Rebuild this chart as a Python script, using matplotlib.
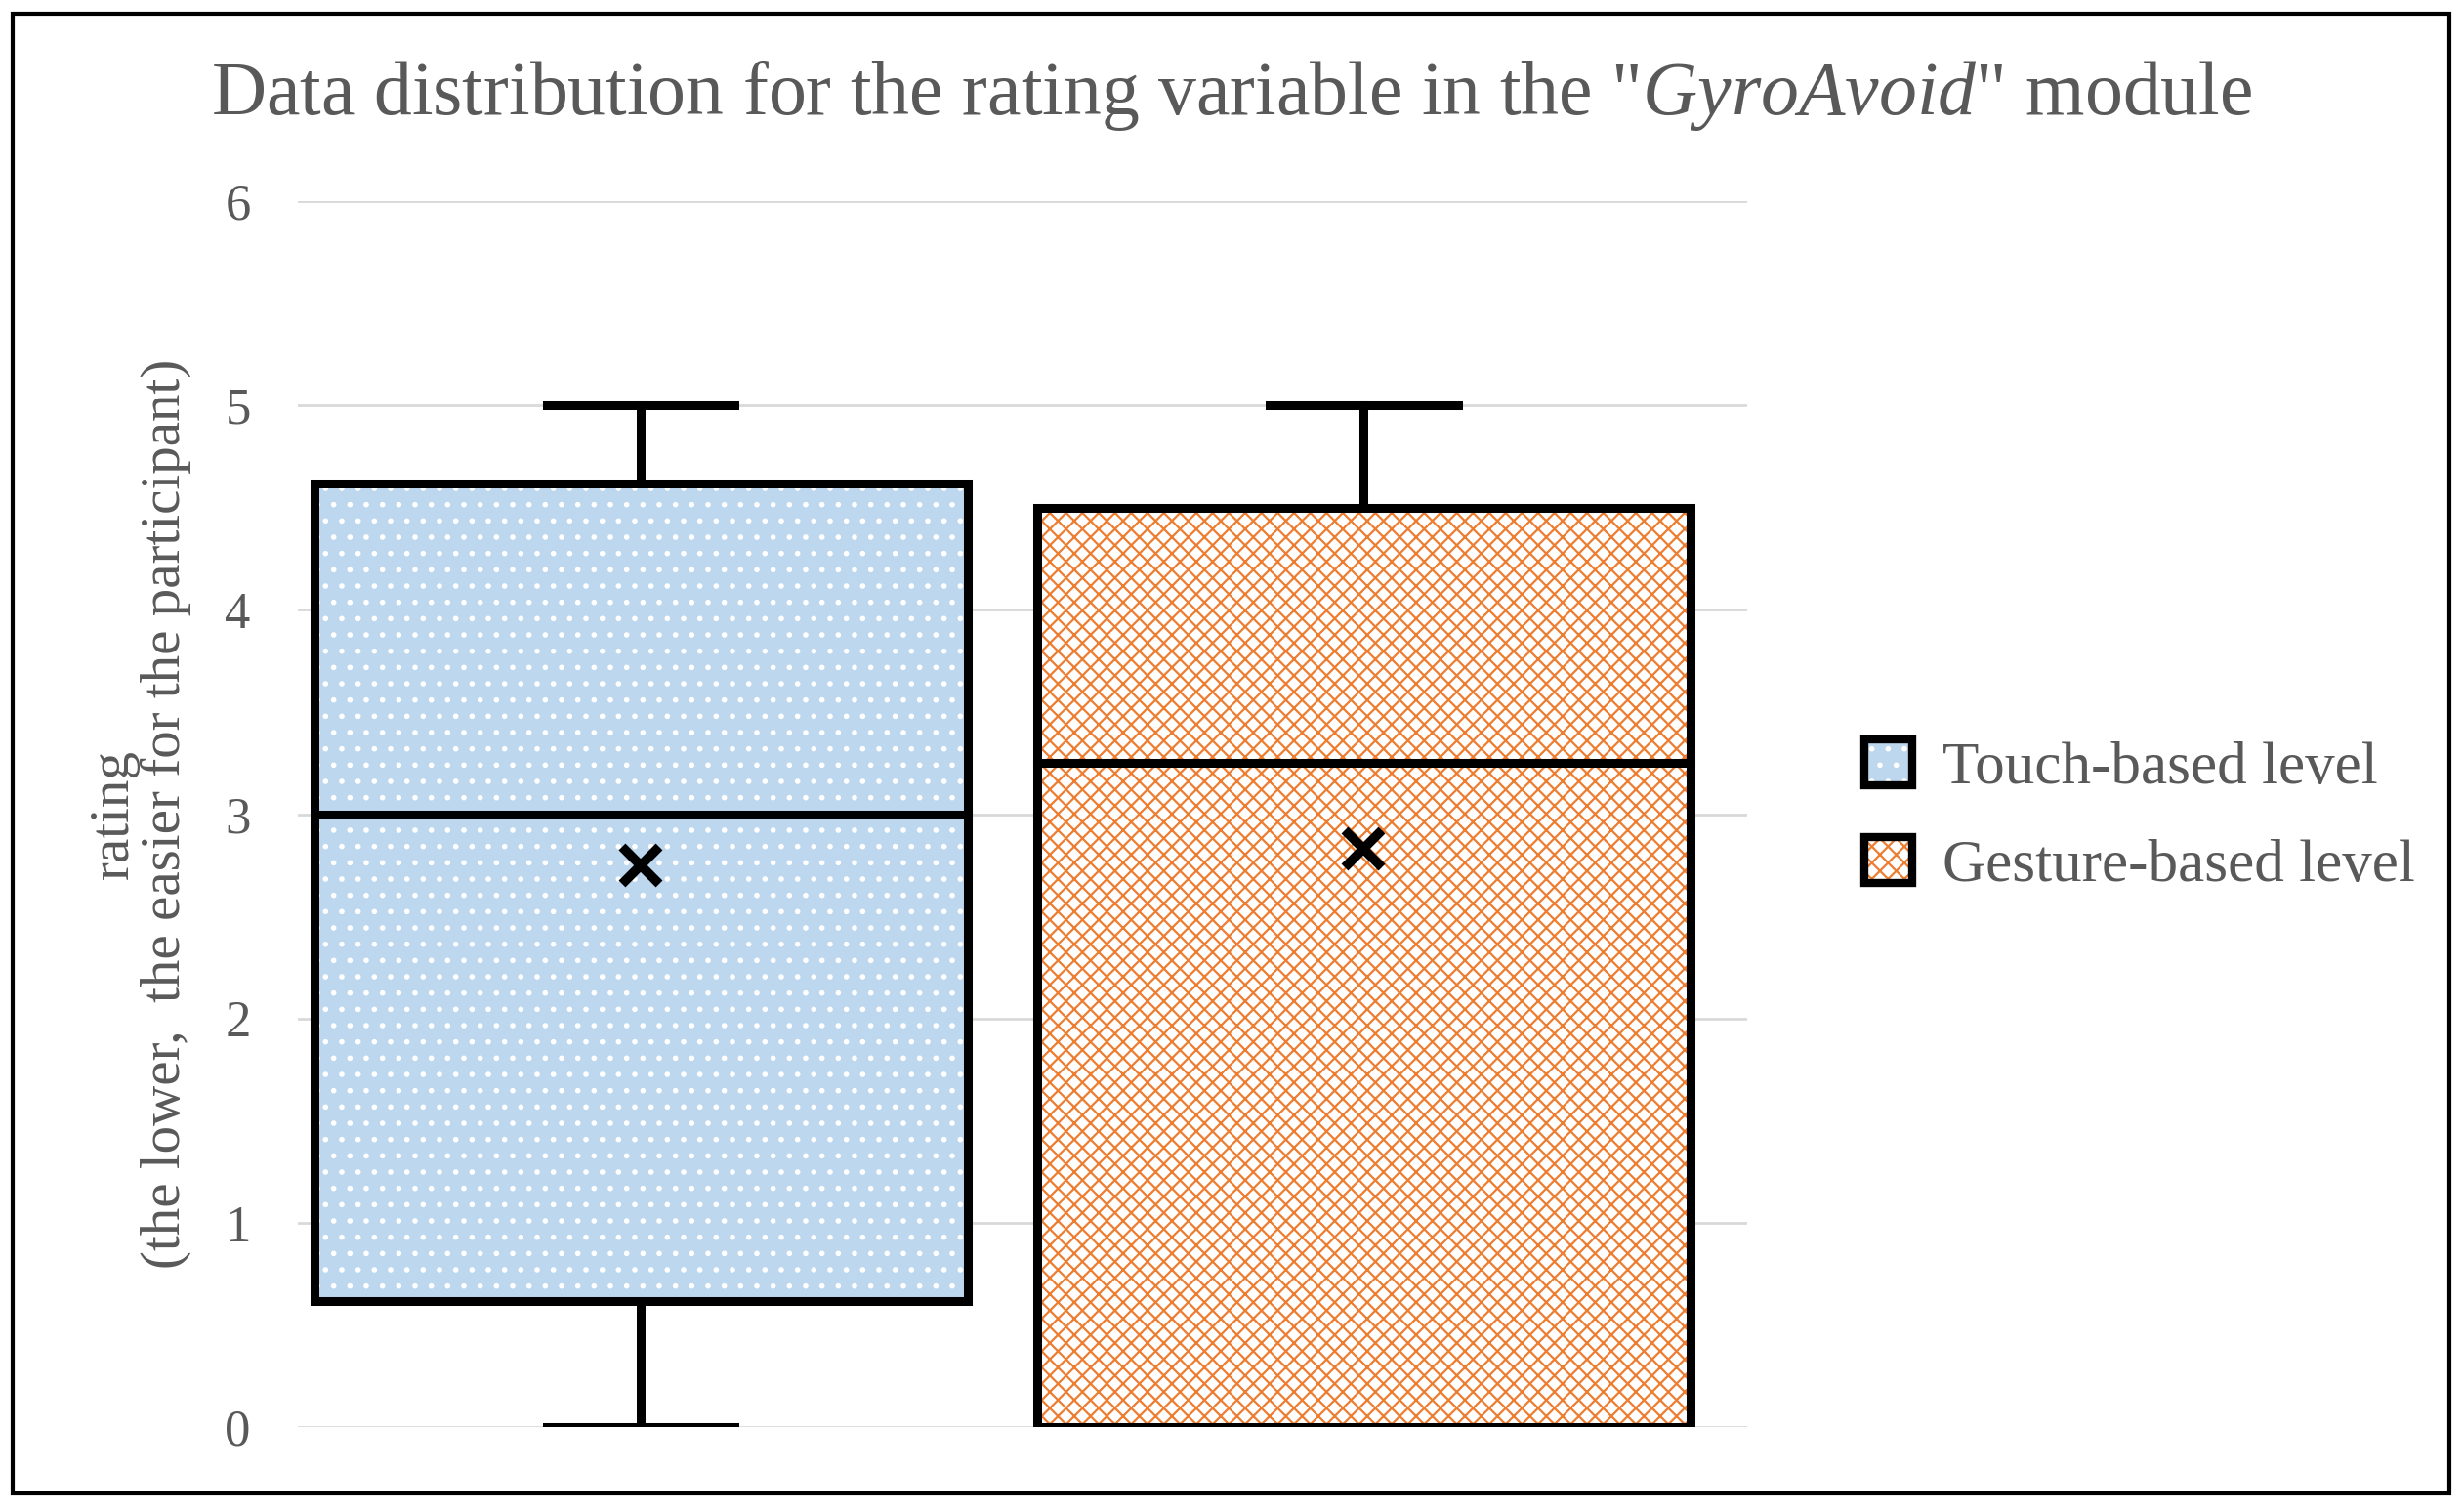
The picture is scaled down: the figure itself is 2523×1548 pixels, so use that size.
import matplotlib.pyplot as plt
from matplotlib.patches import Patch, Rectangle

# box statistics
groups = ["Touch-based level", "Gesture-based level"]
mins = [0, 0]
q1s = [0.62, 0]
medians = [3.0, 3.25]
q3s = [4.62, 4.5]
maxs = [5, 5]
means = [2.75, 2.83]

fills = ["#bdd7ee", "white"]
hatch_cols = ["white", "#ed7d31"]
hatches = [".", "xx"]

plt.rcParams["font.family"] = ["Liberation Serif", "DejaVu Serif"]
plt.rcParams["mathtext.fontset"] = "custom"
plt.rcParams["mathtext.it"] = "Liberation Serif:italic"
plt.rcParams["mathtext.rm"] = "Liberation Serif"
plt.rcParams["hatch.linewidth"] = 1.6

fig = plt.figure(figsize=(25.23, 15.48), dpi=100)
ax = fig.add_axes([0.121, 0.056, 0.588, 0.811])

w = 0.904
cap = 0.13
lw = 6.5
for i in range(len(groups)):
    h = q3s[i] - q1s[i]
    # hatched fill, then black outline on top
    ax.bar(i, h, bottom=q1s[i], width=w, color=fills[i], hatch=hatches[i],
           edgecolor=hatch_cols[i], linewidth=0, zorder=2)
    ax.bar(i, h, bottom=q1s[i], width=w, fill=False, edgecolor="black",
           linewidth=lw, zorder=3)
    ax.plot([i - w / 2, i + w / 2], [medians[i]] * 2, color="black", lw=lw, zorder=4)
    ax.plot([i, i], [q3s[i], maxs[i]], color="black", lw=lw, zorder=1)
    ax.plot([i, i], [mins[i], q1s[i]], color="black", lw=lw, zorder=1)
    ax.plot([i - cap, i + cap], [maxs[i]] * 2, color="black", lw=lw, zorder=1)
    ax.plot([i - cap, i + cap], [mins[i]] * 2, color="black", lw=lw, zorder=1)
    ax.plot(i, means[i], marker="x", color="black", markersize=28,
            markeredgewidth=7, zorder=5)

ax.set_xlim(-0.474, 1.530)
ax.set_ylim(0, 6)
ax.set_xticks([])
ax.set_yticks(range(7))
ax.tick_params(axis="y", length=0, labelsize=38, labelcolor="#595959", pad=35)
ax.grid(axis="y", color="#d9d9d9", lw=2)
ax.set_axisbelow(True)
for s in ax.spines.values():
    s.set_visible(False)
ax.set_ylabel("rating\n(the lower,  the easier for the participant)",
              fontsize=41, color="#595959", labelpad=25, linespacing=1.0)

fig.text(0.5, 0.937, 'Data distribution for the rating variable in the "$\\mathit{GyroAvoid}$" module',
         ha="center", va="center", fontsize=56, color="#595959")

handles = [Patch(facecolor=fills[i], hatch=hatches[i], edgecolor=hatch_cols[i])
           for i in range(len(groups))]
leg = fig.legend(handles, groups, loc="center left", bbox_to_anchor=(0.735, 0.46),
                 frameon=False, fontsize=44, labelcolor="#595959",
                 handlelength=0.8, handleheight=0.8, labelspacing=0.7,
                 handletextpad=0.5)
for p in leg.get_patches():
    p.set_linewidth(0)
fig.canvas.draw()
for p in leg.get_patches():
    bb = p.get_window_extent()
    fig.patches.append(Rectangle((bb.x0, bb.y0), bb.width, bb.height, fill=False,
                                 edgecolor="black", linewidth=6,
                                 transform=None, zorder=10))

fig.patches.append(Rectangle((0.005, 0.012), 0.989, 0.979, fill=False,
                             edgecolor="black", linewidth=3,
                             transform=fig.transFigure))
fig.savefig("out.png", dpi=100)
